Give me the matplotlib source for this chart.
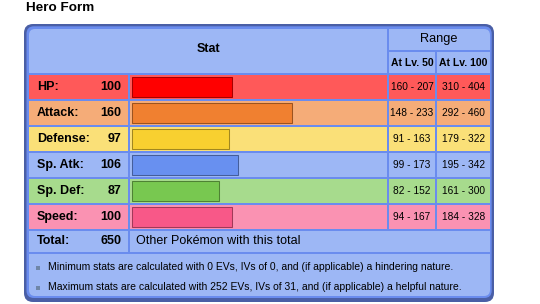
import matplotlib
matplotlib.use("Agg")
import matplotlib.pyplot as plt
from matplotlib.patches import Rectangle, FancyBboxPatch

plt.rcParams['font.family'] = ['Liberation Sans', 'DejaVu Sans']

title = "Hero Form"
stat_names = ["HP:", "Attack:", "Defense:", "Sp. Atk:", "Sp. Def:", "Speed:"]
stat_values = [100, 160, 97, 106, 87, 100]
range_lv50 = ["160 - 207", "148 - 233", "91 - 163", "99 - 173", "82 - 152", "94 - 167"]
range_lv100 = ["310 - 404", "292 - 460", "179 - 322", "195 - 342", "161 - 300", "184 - 328"]
row_colors = ["#FF5959", "#F5AC78", "#FAE078", "#9DB7F5", "#A7DB8D", "#FA92B2"]
bar_colors = ["#FF0000", "#F08030", "#F8D030", "#6890F0", "#78C850", "#F85888"]
bar_edges = ["#A60000", "#9C531F", "#A1871F", "#445E9C", "#4E8234", "#A13959"]
total_label = "Total:"
total_value = 650
total_text = "Other Pokémon with this total"
notes = ["Minimum stats are calculated with 0 EVs, IVs of 0, and (if applicable) a hindering nature.",
         "Maximum stats are calculated with 252 EVs, IVs of 31, and (if applicable) a helpful nature."]

DARK = "#4A5FA6"
MED = "#6A8CEE"
LIGHT = "#9DB7F5"

fig = plt.figure(figsize=(5.4, 3.04), dpi=100)
ax = fig.add_axes([0, 0, 1, 1])
ax.set_xlim(0, 540)
ax.set_ylim(304, 0)
ax.axis('off')

ax.text(26, 8, title, fontsize=9.7, fontweight='bold', ha='left', va='center', color='black')

ax.add_patch(FancyBboxPatch((24, 24), 470, 278, boxstyle="round,pad=0,rounding_size=9",
                            fc=DARK, ec='none'))
ax.add_patch(FancyBboxPatch((26.5, 26.3), 465.2, 271.7, boxstyle="round,pad=0,rounding_size=7.5",
                            fc=MED, ec='none'))
clip = FancyBboxPatch((29, 29), 461, 267, boxstyle="round,pad=0,rounding_size=6",
                      fc='none', ec='none', transform=ax.transData)


def cell(x0, y0, x1, y1, color):
    r = Rectangle((x0, y0), x1 - x0, y1 - y0, fc=color, ec='none')
    ax.add_patch(r)
    r.set_clip_path(clip)


# header
cell(29, 29, 387, 73, LIGHT)
cell(389, 29, 490, 50, LIGHT)
cell(389, 52, 435, 73, LIGHT)
cell(437, 52, 490, 73, LIGHT)
ax.text(208.5, 49.5, "Stat", fontsize=9, fontweight='bold', ha='center', va='center')
ax.text(439, 39, "Range", fontsize=9.2, ha='center', va='center')
ax.text(412, 62.5, "At Lv. 50", fontsize=7.5, fontweight='bold', ha='center', va='center')
ax.text(463.5, 62.5, "At Lv. 100", fontsize=7.5, fontweight='bold', ha='center', va='center')

row_top = [75 + 26 * i for i in range(len(stat_names))]
row_h = 24.4
centers = [t + row_h / 2 for t in row_top]
for i, t in enumerate(row_top):
    c = row_colors[i]
    cell(29, t, 128, t + row_h, c)
    cell(130, t, 387, t + row_h, c)
    cell(389, t, 435, t + row_h, c)
    cell(437, t, 490, t + row_h, c)
    ax.text(37, centers[i], stat_names[i], fontsize=9, fontweight='bold', ha='left', va='center')
    ax.text(121.5, centers[i], str(stat_values[i]), fontsize=9, fontweight='bold', ha='right', va='center')
    ax.text(412, centers[i], range_lv50[i], fontsize=7.3, ha='center', va='center')
    ax.text(463.5, centers[i], range_lv100[i], fontsize=7.3, ha='center', va='center')

ax.barh(centers, stat_values, left=131.8, height=20, color=bar_colors,
        edgecolor=bar_edges, linewidth=0.75, zorder=3)

# total row
cell(29, 231, 128, 252, LIGHT)
cell(130, 231, 490, 252, LIGHT)
ax.text(37, 241.5, total_label, fontsize=9, fontweight='bold', ha='left', va='center')
ax.text(121.5, 241.5, str(total_value), fontsize=9, fontweight='bold', ha='right', va='center')
ax.text(136.5, 241.5, total_text, fontsize=9, ha='left', va='center')

# notes
cell(29, 254, 490, 296, LIGHT)
for n, y in zip(notes, [267.5, 287.5]):
    ax.add_patch(Rectangle((36, y - 2), 4, 4, fc="#6F86A8", ec='none'))
    ax.text(48, y, n, fontsize=7.5, ha='left', va='center')

fig.savefig("out.png", dpi=100)
